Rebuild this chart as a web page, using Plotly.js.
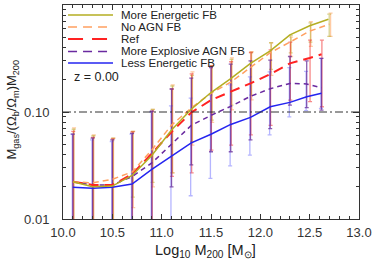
<!DOCTYPE html>
<html>
<head>
<meta charset="utf-8">
<script src="https://cdn.plot.ly/plotly-3.0.1.min.js"></script>
<style>html,body{margin:0;padding:0;background:#fff}#chart{width:374px;height:264px}</style>
</head>
<body>
<div id="chart"></div>
<script>
// ---- data ----
var seriesNames = ["More Energetic FB", "No AGN FB", "Ref", "More Explosive AGN FB", "Less Energetic FB"];

var xMoreEnergetic = [10.1,10.3,10.5,10.7,10.9,11.1,11.3,11.5,11.7,11.9,12.1,12.3,12.5,12.69];
var yMoreEnergetic = [0.0223,0.0200,0.0203,0.0255,0.0392,0.0679,0.106,0.152,0.205,0.285,0.372,0.525,0.640,0.735];
var hiMoreEnergetic = [0.069,0.060,0.057,0.066,0.106,0.175,0.22,0.27,0.31,0.36,0.444,0.52,0.68,0.82];
var loMoreEnergetic = [0.001,0.001,0.001,0.016,0.022,0.027,0.0527,0.084,0.116,0.144,0.25,0.357,0.45,0.51];

var xNoAGN = [10.1,10.3,10.5,10.7,10.9,11.1,11.3,11.5,11.7,11.9,12.1,12.3,12.5,12.7];
var yNoAGN = [0.0222,0.0218,0.0235,0.0275,0.0442,0.0755,0.109,0.150,0.19,0.263,0.358,0.45,0.57,0.66];
var hiNoAGN = [0.071,0.061,0.057,0.066,0.106,0.179,0.237,0.27,0.32,0.366,0.444,0.50,0.70,0.84];
var loNoAGN = [0.001,0.001,0.001,0.0128,0.02,0.027,0.049,0.08,0.105,0.13,0.22,0.33,0.41,0.51];

var xRef = [10.1,10.3,10.5,10.7,10.9,11.1,11.3,11.5,11.7,11.9,12.1,12.3,12.5,12.62];
var yRef = [0.0223,0.0208,0.0208,0.0262,0.041,0.065,0.099,0.129,0.155,0.185,0.226,0.285,0.32,0.346];
var hiRef = [0.066,0.058,0.056,0.065,0.102,0.164,0.227,0.27,0.295,0.36,0.38,0.45,0.47,0.47];
var loRef = [0.001,0.001,0.001,0.001,0.001,0.025,0.027,0.044,0.049,0.061,0.075,0.129,0.125,0.112];

var xExplosive = [10.1,10.3,10.5,10.7,10.9,11.1,11.3,11.5,11.7,11.9,12.1,12.3,12.47,12.62];
var yExplosive = [0.0223,0.0208,0.0208,0.0249,0.0334,0.050,0.075,0.093,0.113,0.14,0.165,0.185,0.183,0.168];
var hiExplosive = [0.062,0.057,0.055,0.063,0.102,0.164,0.207,0.26,0.28,0.30,0.305,0.33,0.30,0.317];
var loExplosive = [0.001,0.001,0.001,0.001,0.001,0.02,0.032,0.0425,0.0425,0.055,0.07,0.116,0.11,0.104];

var xLessEnergetic = [10.1,10.3,10.5,10.7,10.9,11.1,11.3,11.5,11.7,11.9,12.1,12.3,12.47,12.62];
var yLessEnergetic = [0.0198,0.0194,0.0198,0.0212,0.0291,0.039,0.0515,0.062,0.0765,0.089,0.112,0.123,0.139,0.150];
var hiLessEnergetic = [0.062,0.055,0.053,0.062,0.100,0.114,0.135,0.144,0.179,0.213,0.237,0.26,0.24,0.317];
var loLessEnergetic = [0.001,0.001,0.001,0.001,0.001,0.001,0.0165,0.024,0.0314,0.0396,0.061,0.09,0.103,0.108];

var xTickVals = [10.0,10.5,11.0,11.5,12.0,12.5,13.0];
var yTickVals = [0.01, 0.1, 1];
var yTickText = ["0.01", "0.10", "1.00"];
var yMinorVals = [0.02,0.03,0.04,0.05,0.06,0.07,0.08,0.09,0.2,0.3,0.4,0.5,0.6,0.7,0.8,0.9];
var redshiftLabel = "z = 0.00";

// ---- styles ----
var styles = {
  more:  {color: "#b4ae22", ecolor: "rgba(180,170,40,0.5)",  dash: "solid",   width: 1.5, off: 0.008},
  noagn: {color: "#ffa060", ecolor: "rgba(255,160,90,0.55)", dash: "6px,4px", width: 1.5, off: 0.012},
  ref:   {color: "#ff2222", ecolor: "rgba(240,40,40,0.55)",  dash: "10px,6px", width: 2,  off: 0.004},
  expl:  {color: "#6a2aa0", ecolor: "rgba(100,40,150,0.75)", dash: "5px,4px", width: 1.5, off: 0.0},
  less:  {color: "#2424f0", ecolor: "rgba(70,70,255,0.4)",   dash: "solid",   width: 1.5, off: -0.006}
};
var errOrder = [
  {s: styles.noagn, x: xNoAGN, y: yNoAGN, hi: hiNoAGN, lo: loNoAGN},
  {s: styles.more,  x: xMoreEnergetic, y: yMoreEnergetic, hi: hiMoreEnergetic, lo: loMoreEnergetic},
  {s: styles.ref,   x: xRef, y: yRef, hi: hiRef, lo: loRef},
  {s: styles.less,  x: xLessEnergetic, y: yLessEnergetic, hi: hiLessEnergetic, lo: loLessEnergetic},
  {s: styles.expl,  x: xExplosive, y: yExplosive, hi: hiExplosive, lo: loExplosive}
];
var lineOrder = [
  {name: seriesNames[4], s: styles.less,  x: xLessEnergetic, y: yLessEnergetic},
  {name: seriesNames[3], s: styles.expl,  x: xExplosive, y: yExplosive},
  {name: seriesNames[2], s: styles.ref,   x: xRef, y: yRef},
  {name: seriesNames[1], s: styles.noagn, x: xNoAGN, y: yNoAGN},
  {name: seriesNames[0], s: styles.more,  x: xMoreEnergetic, y: yMoreEnergetic}
];

var traces = [];
errOrder.forEach(function(e){
  traces.push({
    type: "scatter", mode: "markers",
    x: e.x.map(function(v){return v + e.s.off;}),
    y: e.y,
    marker: {size: 1, opacity: 0},
    error_y: {
      type: "data", symmetric: false,
      array: e.hi.map(function(h,i){return h - e.y[i];}),
      arrayminus: e.lo.map(function(l,i){return e.y[i] - l;}),
      color: e.s.ecolor, thickness: 1.3, width: 2
    },
    showlegend: false, hoverinfo: "skip"
  });
});
lineOrder.forEach(function(l){
  traces.push({
    type: "scatter", mode: "lines", name: l.name,
    x: l.x, y: l.y,
    line: {color: l.s.color, width: l.s.width, dash: l.s.dash},
    showlegend: false
  });
});

// manual compact legend
var legendOrder = [
  {name: seriesNames[0], color: styles.more.color,  dash: "solid",    width: 1.5},
  {name: seriesNames[1], color: styles.noagn.color, dash: "9px,6px",  width: 1.5},
  {name: seriesNames[2], color: styles.ref.color,   dash: "15px,9px", width: 2},
  {name: seriesNames[3], color: styles.expl.color,  dash: "9px,6px",  width: 1.5},
  {name: seriesNames[4], color: styles.less.color,  dash: "solid",    width: 1.5}
];
var rowY = [0.953, 0.897, 0.841, 0.783, 0.729];
var txtFont = "Liberation Sans, Arial, sans-serif";
var shapes = [];
var annotations = [];
legendOrder.forEach(function(l, i){
  shapes.push({type: "line", xref: "paper", yref: "paper", x0: 0.017, x1: 0.169, y0: rowY[i], y1: rowY[i],
               line: {color: l.color, width: l.width, dash: l.dash}});
  annotations.push({xref: "paper", yref: "paper", x: 0.19, y: rowY[i], xanchor: "left", yanchor: "middle",
                    text: l.name, showarrow: false, font: {family: txtFont, size: 11.5, color: "#222"}});
});
shapes.push({type: "line", xref: "paper", yref: "y", x0: 0, x1: 1, y0: 0.1, y1: 0.1,
             line: {color: "#333", width: 1, dash: "8px,3px,2px,3px"}});
annotations.push({xref: "paper", yref: "paper", x: 0.03, y: 0.664, xanchor: "left", yanchor: "middle",
                  text: redshiftLabel, showarrow: false, font: {family: txtFont, size: 12.5, color: "#222"}});
annotations.push({xref: "paper", yref: "paper", x: 0.483, y: -0.15, xanchor: "center", yanchor: "middle",
                  text: "Log<sub>10</sub> M<sub>200</sub> [M<sub>⊙</sub>]", showarrow: false,
                  font: {family: txtFont, size: 14.5, color: "#222"}});
annotations.push({xref: "paper", yref: "paper", x: -0.17, y: 0.51, xanchor: "center", yanchor: "middle", textangle: -90,
                  text: "M<sub>gas</sub>/(Ω<sub>b</sub>/Ω<sub>m</sub>)M<sub>200</sub>", showarrow: false,
                  font: {family: txtFont, size: 13, color: "#222"}});

var axisFont = {family: txtFont, size: 13, color: "#333"};
var layout = {
  width: 374, height: 264,
  margin: {l: 63, r: 15, t: 5, b: 45},
  paper_bgcolor: "#fff", plot_bgcolor: "#fff",
  showlegend: false,
  xaxis: {
    range: [10, 13], tickmode: "array", tickvals: xTickVals,
    ticktext: xTickVals.map(function(v){return v.toFixed(1);}),
    ticks: "inside", ticklen: 5, tickwidth: 1, tickcolor: "#333",
    showline: true, linecolor: "#333", linewidth: 1, mirror: "allticks",
    showgrid: false, zeroline: false, tickfont: axisFont, ticklabelstandoff: 1,
    minor: {tickmode: "linear", tick0: 10, dtick: 0.1, ticks: "inside", ticklen: 3, tickcolor: "#333", showgrid: false}
  },
  yaxis: {
    type: "log", range: [-2, 0], tickmode: "array", tickvals: yTickVals, ticktext: yTickText,
    ticks: "inside", ticklen: 6, tickwidth: 1, tickcolor: "#333",
    showline: true, linecolor: "#333", linewidth: 1, mirror: "allticks",
    showgrid: false, zeroline: false, tickfont: axisFont, ticklabelstandoff: 10,
    minor: {tickmode: "array", tickvals: yMinorVals, ticks: "inside", ticklen: 3, tickcolor: "#333", showgrid: false}
  },
  shapes: shapes,
  annotations: annotations
};

Plotly.newPlot("chart", traces, layout, {staticPlot: true, displayModeBar: false});
</script>
</body>
</html>
